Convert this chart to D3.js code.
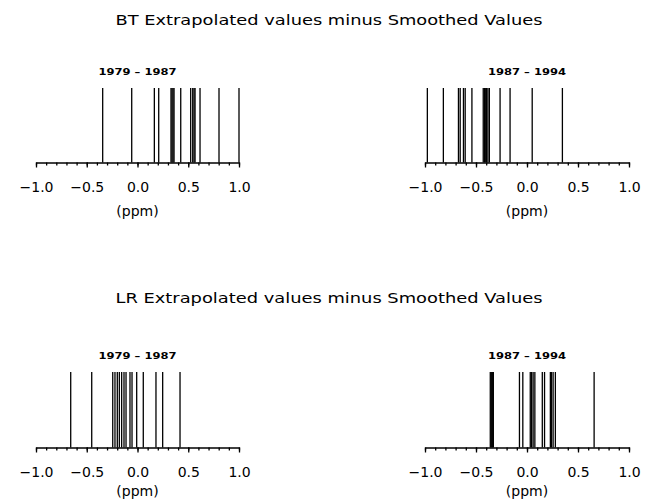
<!DOCTYPE html>
<html>
<head>
<meta charset="utf-8">
<script src="https://cdn.jsdelivr.net/npm/d3@7"></script>
<style>
  body { margin: 0; background: #fff; }
  svg { display: block; }
</style>
</head>
<body>
<svg id="chart" width="653" height="501"></svg>
<script>
// Row headings and panel headings
const rowTitles = [
  "BT Extrapolated values minus Smoothed Values",
  "LR Extrapolated values minus Smoothed Values"
];
const periods = ["1979 – 1987", "1987 – 1994"];
const tickValues = [-1.0, -0.5, 0.0, 0.5, 1.0];
const unitLabel = "(ppm)";

// Differences (ppm), one vertical stroke per value
const btEarly = [-0.343, -0.057, 0.166, 0.209, 0.330, 0.340, 0.350, 0.360, 0.426,
                 0.524, 0.544, 0.557, 0.567, 0.616, 0.803, 1.000];
const btLate  = [-0.977, -0.820, -0.672, -0.655, -0.623, -0.606, -0.540, -0.429,
                 -0.416, -0.409, -0.396, -0.383, -0.369, -0.264, -0.166, 0.051, 0.347];
const lrEarly = [-0.658, -0.451, -0.244, -0.222, -0.199, -0.179, -0.156, -0.133,
                 -0.113, -0.074, -0.054, -0.008, 0.057, 0.182, 0.248, 0.419];
const lrLate  = [-0.360, -0.350, -0.340, -0.330, -0.074, -0.041, 0.032, 0.045, 0.060,
                 0.077, 0.150, 0.172, 0.229, 0.240, 0.256, 0.278, 0.658];

const panelValues = [[btEarly, btLate], [lrEarly, lrLate]];

// Layout
const rows = [
  { titleY: 20,  subY: 71,  top: 88,  base: 162.5, unitY: 211 },
  { titleY: 298, subY: 355, top: 372, base: 447.5, unitY: 491 }
];
const cols = [ { x0: 36, x1: 239 }, { x0: 425, x1: 629 } ];
const font = "'DejaVu Sans', sans-serif";

const svg = d3.select("#chart");
svg.append("rect").attr("width", 653).attr("height", 501).attr("fill", "#fff");

rows.forEach((row, ri) => {
  svg.append("text")
    .attr("x", 329).attr("y", row.titleY)
    .attr("text-anchor", "middle").attr("dominant-baseline", "central")
    .attr("font-family", font).attr("font-size", 14)
    .attr("textLength", 427).attr("lengthAdjust", "spacingAndGlyphs")
    .attr("fill", "#000")
    .text(rowTitles[ri]);

  cols.forEach((col, ci) => {
    const x = d3.scaleLinear().domain([-1, 1]).range([col.x0, col.x1]);
    const g = svg.append("g");
    const cx = (col.x0 + col.x1) / 2;

    g.append("text")
      .attr("x", cx).attr("y", row.subY)
      .attr("text-anchor", "middle").attr("dominant-baseline", "central")
      .attr("font-family", font).attr("font-size", 9.5).attr("font-weight", "bold")
      .attr("textLength", 78).attr("lengthAdjust", "spacingAndGlyphs")
      .text(periods[ci]);

    // value strokes
    g.append("g").selectAll("line")
      .data(panelValues[ri][ci])
      .join("line")
      .attr("x1", d => x(d)).attr("x2", d => x(d))
      .attr("y1", row.top).attr("y2", row.base)
      .attr("stroke", "#000").attr("stroke-width", 1.3);

    // minor ticks every 0.1
    const minor = d3.axisBottom(x)
      .tickValues(d3.range(-10, 11).map(i => i / 10))
      .tickSize(3).tickSizeOuter(0).tickFormat("");
    g.append("g").attr("transform", `translate(0,${row.base})`).call(minor)
      .call(s => s.selectAll("path,line").attr("stroke", "#000").attr("stroke-width", 1.3));

    // major ticks with labels
    const major = d3.axisBottom(x)
      .tickValues(tickValues)
      .tickSize(5).tickSizeOuter(0).tickPadding(15)
      .tickFormat(d3.format(".1f"));
    g.append("g").attr("transform", `translate(0,${row.base})`).call(major)
      .call(s => s.select(".domain").remove())
      .call(s => s.selectAll("line").attr("stroke", "#000").attr("stroke-width", 1.3))
      .call(s => s.selectAll("text")
        .attr("font-family", font).attr("font-size", 14).attr("fill", "#000"));

    g.append("text")
      .attr("x", cx).attr("y", row.unitY)
      .attr("text-anchor", "middle").attr("dominant-baseline", "central")
      .attr("font-family", font).attr("font-size", 14)
      .text(unitLabel);
  });
});
</script>
</body>
</html>
